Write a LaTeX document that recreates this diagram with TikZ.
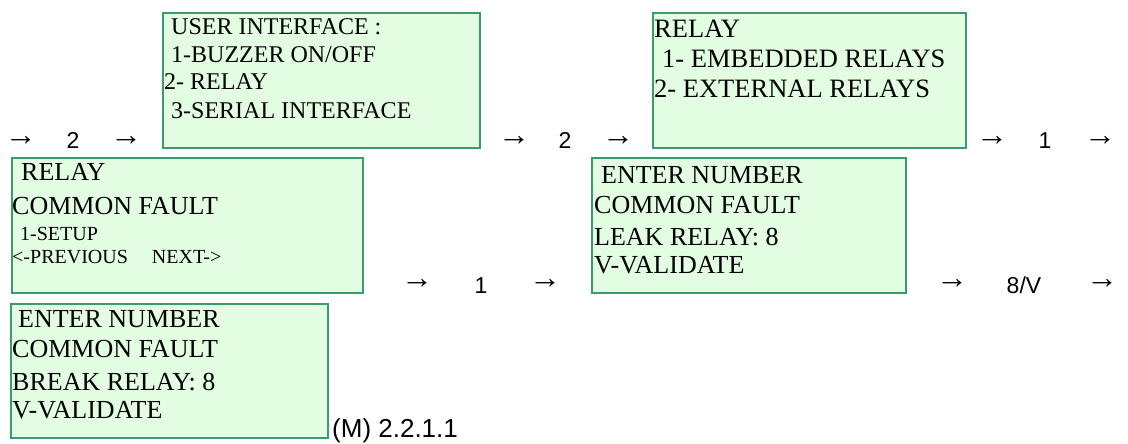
\documentclass[tikz,border=0pt]{standalone}
\usepackage{fontspec}
\setmainfont{Liberation Serif}
\newfontfamily\arialf{Liberation Sans}
\definecolor{boxfill}{HTML}{E2FDE2}
\definecolor{boxline}{HTML}{3A9B6E}
\tikzset{
  scrbox/.style={draw=boxline, fill=boxfill, line width=2pt, anchor=north west, inner sep=0pt},
  ltxt/.style={anchor=base west, inner sep=0pt, text=black},
  key/.style={anchor=base, inner sep=0pt, font=\arialf\fontsize{23}{27}\selectfont},
  arr/.style={anchor=center, inner sep=0pt, font=\arialf\bfseries\fontsize{32}{36}\selectfont},
  fa/.style={font=\fontsize{24}{28}\selectfont},
  fb/.style={font=\fontsize{26}{30}\selectfont},
  fd/.style={font=\fontsize{26.5}{30}\selectfont},
  fc/.style={font=\fontsize{20}{24}\selectfont}
}
\begin{document}
\begin{tikzpicture}[x=1pt,y=-1pt]
\useasboundingbox (0,0) rectangle (1128,444);
% boxes
\node[scrbox, minimum width=317pt, minimum height=135pt] (b1) at (162,12) {};
\node[scrbox, minimum width=313pt, minimum height=135pt] (b2) at (652,12) {};
\node[scrbox, minimum width=351pt, minimum height=135pt] (b3) at (11,157) {};
\node[scrbox, minimum width=314pt, minimum height=135pt] (b4) at (591,157) {};
\node[scrbox, minimum width=317pt, minimum height=134pt] (b5) at (10,303) {};
% box 1 text
\node[ltxt, fa] (b1a) at ([shift={(9,23)}]b1.north west) {USER INTERFACE :};
\node[ltxt, fa] (b1b) at ([shift={(9,51)}]b1.north west) {1-BUZZER ON/OFF};
\node[ltxt, fa] (b1c) at ([shift={(2,78)}]b1.north west) {2- RELAY};
\node[ltxt, fa] (b1d) at ([shift={(9,106)}]b1.north west) {3-SERIAL INTERFACE};
% box 2 text
\node[ltxt, fd] (b2a) at ([shift={(2,26)}]b2.north west) {RELAY};
\node[ltxt, fd] (b2b) at ([shift={(10,55)}]b2.north west) {1- EMBEDDED RELAYS};
\node[ltxt, fd] (b2c) at ([shift={(2,85)}]b2.north west) {2- EXTERNAL RELAYS};
% box 3 text
\node[ltxt, fb] (b3a) at ([shift={(10,23)}]b3.north west) {RELAY};
\node[ltxt, fb] (b3b) at ([shift={(1,57)}]b3.north west) {COMMON FAULT};
\node[ltxt, fc] (b3c) at ([shift={(9,83)}]b3.north west) {1-SETUP};
\node[ltxt, fc] (b3d) at ([shift={(1,106)}]b3.north west) {<-PREVIOUS\hspace{24pt}NEXT->};
% box 4 text
\node[ltxt, fb] (b4a) at ([shift={(10,26)}]b4.north west) {ENTER NUMBER};
\node[ltxt, fb] (b4b) at ([shift={(3,56)}]b4.north west) {COMMON FAULT};
\node[ltxt, fb] (b4c) at ([shift={(3,88)}]b4.north west) {LEAK RELAY: 8};
\node[ltxt, fb] (b4d) at ([shift={(3,116)}]b4.north west) {V-VALIDATE};
% box 5 text
\node[ltxt, fb] (b5a) at ([shift={(8,24)}]b5.north west) {ENTER NUMBER};
\node[ltxt, fb] (b5b) at ([shift={(2,54)}]b5.north west) {COMMON FAULT};
\node[ltxt, fb] (b5c) at ([shift={(2,87)}]b5.north west) {BREAK RELAY: 8};
\node[ltxt, fb] (b5d) at ([shift={(2,115)}]b5.north west) {V-VALIDATE};
% key sequences, row 1
\node[arr] (r1a1) at (21,141) {→};
\node[key] (r1a2) at (73,148) {2};
\node[arr] (r1a3) at (126,141) {→};
\node[arr] (r1b1) at (514,141) {→};
\node[key] (r1b2) at (565,148) {2};
\node[arr] (r1b3) at (618,141) {→};
\node[arr] (r1c1) at (992,141) {→};
\node[key] (r1c2) at (1045,148) {1};
\node[arr] (r1c3) at (1100,141) {→};
% row 2
\node[arr] (r2a1) at (417,284) {→};
\node[key] (r2a2) at (481,293) {1};
\node[arr] (r2a3) at (545,284) {→};
\node[arr] (r2b1) at (952,284) {→};
\node[key] (r2b2) at (1024,293) {8/V};
\node[arr] (r2b3) at (1102,284) {→};
% reference
\node[ltxt, font=\arialf\fontsize{26}{30}\selectfont] (ref) at (332,437) {(M) 2.2.1.1};
\end{tikzpicture}
\end{document}
